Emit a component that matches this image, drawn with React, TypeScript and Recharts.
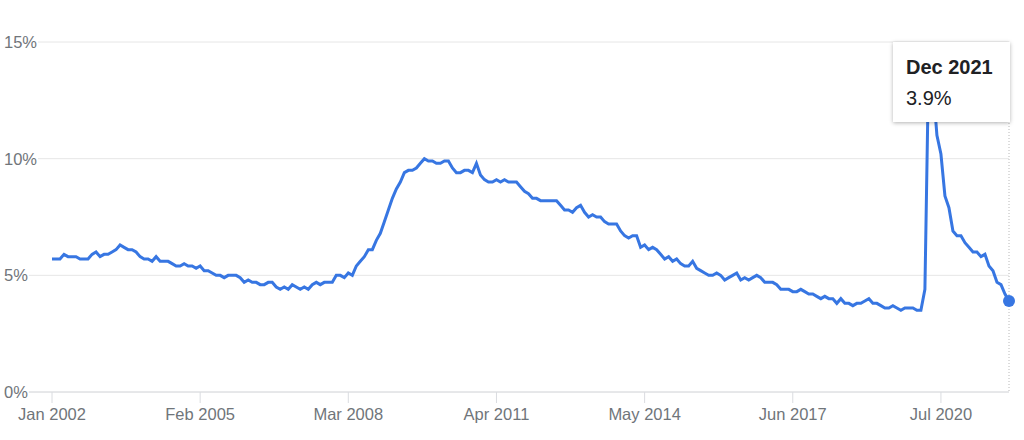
import React from 'react';
import { LineChart, Line, XAxis, YAxis, CartesianGrid, Tooltip } from 'recharts';

// monthly unemployment rate, Jan 2002 .. Dec 2021
const START_YEAR = 2002;
const MONTHS = ['Jan', 'Feb', 'Mar', 'Apr', 'May', 'Jun', 'Jul', 'Aug', 'Sep', 'Oct', 'Nov', 'Dec'];

const rates: number[] = [
    5.7, 5.7, 5.7, 5.9, 5.8, 5.8, 5.8, 5.7, 5.7, 5.7, 5.9, 6.0, // 2002
    5.8, 5.9, 5.9, 6.0, 6.1, 6.3, 6.2, 6.1, 6.1, 6.0, 5.8, 5.7, // 2003
    5.7, 5.6, 5.8, 5.6, 5.6, 5.6, 5.5, 5.4, 5.4, 5.5, 5.4, 5.4, // 2004
    5.3, 5.4, 5.2, 5.2, 5.1, 5.0, 5.0, 4.9, 5.0, 5.0, 5.0, 4.9, // 2005
    4.7, 4.8, 4.7, 4.7, 4.6, 4.6, 4.7, 4.7, 4.5, 4.4, 4.5, 4.4, // 2006
    4.6, 4.5, 4.4, 4.5, 4.4, 4.6, 4.7, 4.6, 4.7, 4.7, 4.7, 5.0, // 2007
    5.0, 4.9, 5.1, 5.0, 5.4, 5.6, 5.8, 6.1, 6.1, 6.5, 6.8, 7.3, // 2008
    7.8, 8.3, 8.7, 9.0, 9.4, 9.5, 9.5, 9.6, 9.8, 10.0, 9.9, 9.9, // 2009
    9.8, 9.8, 9.9, 9.9, 9.6, 9.4, 9.4, 9.5, 9.5, 9.4, 9.8, 9.3, // 2010
    9.1, 9.0, 9.0, 9.1, 9.0, 9.1, 9.0, 9.0, 9.0, 8.8, 8.6, 8.5, // 2011
    8.3, 8.3, 8.2, 8.2, 8.2, 8.2, 8.2, 8.0, 7.8, 7.8, 7.7, 7.9, // 2012
    8.0, 7.7, 7.5, 7.6, 7.5, 7.5, 7.3, 7.2, 7.2, 7.2, 6.9, 6.7, // 2013
    6.6, 6.7, 6.7, 6.2, 6.3, 6.1, 6.2, 6.1, 5.9, 5.7, 5.8, 5.6, // 2014
    5.7, 5.5, 5.4, 5.4, 5.6, 5.3, 5.2, 5.1, 5.0, 5.0, 5.1, 5.0, // 2015
    4.8, 4.9, 5.0, 5.1, 4.8, 4.9, 4.8, 4.9, 5.0, 4.9, 4.7, 4.7, // 2016
    4.7, 4.6, 4.4, 4.4, 4.4, 4.3, 4.3, 4.4, 4.3, 4.2, 4.2, 4.1, // 2017
    4.0, 4.1, 4.0, 4.0, 3.8, 4.0, 3.8, 3.8, 3.7, 3.8, 3.8, 3.9, // 2018
    4.0, 3.8, 3.8, 3.7, 3.6, 3.6, 3.7, 3.6, 3.5, 3.6, 3.6, 3.6, // 2019
    3.5, 3.5, 4.4, 14.8, 13.2, 11.0, 10.2, 8.4, 7.9, 6.9, 6.7, 6.7, // 2020
    6.4, 6.2, 6.0, 6.0, 5.8, 5.9, 5.4, 5.2, 4.7, 4.6, 4.2, 3.9, // 2021
];

const xTicks = [0, 37, 74, 111, 148, 185, 222];
const yTicks = [0, 5, 10, 15];

const data = rates.map((rate, i) => ({
    i,
    label: `${MONTHS[i % 12]} ${START_YEAR + Math.floor(i / 12)}`,
    rate,
}));

const FONT = '"Liberation Sans", Arial, Helvetica, sans-serif';
const BLUE = '#3776e2';
const GREY_TEXT = '#70757a';

const YTick = (props: any) => {
    const { y, payload } = props;
    const text = `${payload.value}%`;
    const w = (String(payload.value).length * 0.556 + 0.889) * 16.5;
    return (
        <g>
            <rect x={0} y={y - 10} width={w + 5} height={20} fill="#fff" />
            <text x={4} y={y} dy="0.36em" fill={GREY_TEXT} fontSize={16.5} fontFamily={FONT} textAnchor="start">
                {text}
            </text>
        </g>
    );
};

const TipBox = ({ active, payload }: any) => {
    if (!active || !payload || !payload.length) return null;
    const p = payload[0].payload;
    return (
        <div style={{
            width: 117, height: 80, boxSizing: 'border-box', background: '#fff',
            boxShadow: '0 1px 4px rgba(0,0,0,0.3)', padding: '10px 0 0 13px',
            fontFamily: FONT, fontSize: 20, lineHeight: '31px', color: '#202124',
        }}>
            <div style={{ fontWeight: 'bold' }}>{p.label}</div>
            <div>{p.rate}%</div>
        </div>
    );
};

export default function App() {
    return (
        <div style={{ position: 'absolute', left: 0, top: 0, width: 1024, height: 440, background: '#fff' }}>
            <LineChart width={1024} height={440} data={data} margin={{ top: 42, right: 15, left: 0, bottom: 18 }}>
                <CartesianGrid vertical={false} stroke="#e6e6e6" />
                <XAxis
                    dataKey="i"
                    type="number"
                    domain={[0, rates.length - 1]}
                    ticks={xTicks}
                    tickFormatter={(v: number) => data[v].label}
                    padding={{ left: 48, right: 0 }}
                    axisLine={{ stroke: '#dadce0' }}
                    tickLine={{ stroke: '#dadce0' }}
                    tickSize={11}
                    tickMargin={5}
                    height={30}
                    tick={{ fill: GREY_TEXT, fontSize: 16.5, fontFamily: FONT }}
                    interval={0}
                />
                <YAxis
                    domain={[0, 15]}
                    ticks={yTicks}
                    width={4}
                    axisLine={false}
                    tickLine={false}
                    tick={<YTick />}
                    interval={0}
                />
                <Tooltip
                    content={<TipBox />}
                    defaultIndex={rates.length - 1}
                    active={true}
                    position={{ x: 893, y: 42 }}
                    cursor={{ stroke: '#b8b8b8', strokeWidth: 1, strokeDasharray: '1 2' }}
                    isAnimationActive={false}
                    allowEscapeViewBox={{ x: true, y: true }}
                    wrapperStyle={{ outline: 'none' }}
                />
                <Line
                    type="linear"
                    dataKey="rate"
                    stroke={BLUE}
                    strokeWidth={3}
                    dot={false}
                    activeDot={{ r: 6, fill: BLUE, stroke: BLUE, strokeWidth: 0 }}
                    isAnimationActive={false}
                />
            </LineChart>
        </div>
    );
}
